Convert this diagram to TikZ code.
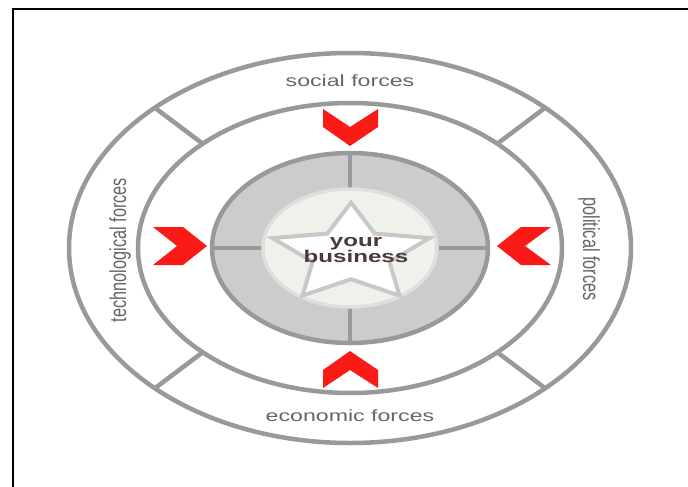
\documentclass[tikz,border=0pt]{standalone}
\usepackage{fontspec}
\setmainfont{Liberation Sans}
\definecolor{ringgray}{RGB}{153,153,153}
\definecolor{fillgray}{RGB}{204,204,204}
\definecolor{lightfill}{RGB}{238,242,234}
\definecolor{lightedge}{RGB}{222,224,222}
\definecolor{stargray}{RGB}{200,200,200}
\definecolor{labelgray}{RGB}{102,102,102}
\definecolor{centertext}{RGB}{75,58,60}
\definecolor{arrowred}{RGB}{250,26,22}
\begin{document}
\begin{tikzpicture}[x=1pt,y=1pt,
  ring/.style={draw=ringgray, line width=4.5pt},
  forcelabel/.style={text=labelgray, font=\fontsize{16.3}{19}\selectfont, inner sep=0pt},
  centerlabel/.style={text=centertext, font=\fontsize{17}{20}\selectfont\bfseries, inner sep=0pt},
  chevron/.style={fill=arrowred}]
\useasboundingbox (0,0) rectangle (688,-487);
% frame
\draw[line width=2.2pt] (13,-487) -- (13,-9) -- (688,-9);
\coordinate (c) at (350,-248);
% outer rings
\draw[ring] (c) ellipse [x radius=281, y radius=195];
\draw[ring] (c) ellipse [x radius=212, y radius=145];
\begin{scope}[shift={(350,-248)}]
  \foreach \a in {46,134,226,314}
    \draw[ring] (\a:281 and 195) -- (\a:212 and 145);
\end{scope}
% inner grey ring
\draw[ring, fill=fillgray] (c) ellipse [x radius=138, y radius=95];
\begin{scope}[shift={(350,-248)}]
  \foreach \a in {0,90,180,270}
    \draw[ring] (\a:138 and 95) -- (\a:87 and 59);
\end{scope}
\draw[draw=lightedge, line width=3.5pt, fill=lightfill] (c) ellipse [x radius=87, y radius=59];
% star
\begin{scope}[shift={(351,-254)}]
  \draw[draw=stargray, line width=4pt, fill=white, line join=miter]
    (0,51.4) -- (-23.7,20.4) -- (-78.5,15.9) -- (-38.4,-7.8) -- (-48.5,-41.6)
    -- (0,-25.2) -- (48.5,-41.6) -- (38.4,-7.8) -- (78.5,15.9) -- (23.7,20.4) -- cycle;
\end{scope}
% chevrons
\fill[chevron] (323,-109) -- (350,-127) -- (378,-109) -- (378,-127) -- (350,-146) -- (323,-127) -- cycle;
\fill[chevron] (323,-388) -- (350,-370) -- (378,-388) -- (378,-370) -- (350,-351) -- (323,-370) -- cycle;
\fill[chevron] (153,-227) -- (183,-227) -- (207,-246) -- (183,-265) -- (153,-265) -- (177,-246) -- cycle;
\fill[chevron] (551,-227) -- (521,-227) -- (497,-246) -- (521,-265) -- (551,-265) -- (525,-246) -- cycle;
% labels
\node[forcelabel, anchor=base] (social) at (350,-86.7) {\scalebox{1.42}[1]{social forces}};
\node[forcelabel, anchor=base] (economic) at (350,-421.5) {\scalebox{1.42}[1]{economic forces}};
\node[forcelabel, anchor=base, rotate=90] (techno) at (126,-250) {\scalebox{1}[1.42]{technological forces}};
\node[forcelabel, anchor=base, rotate=-90] (political) at (583,-249) {\scalebox{1}[1.42]{political forces}};
\node[centerlabel, anchor=base] (your) at (356,-246.5) {\scalebox{1.42}[1]{your}};
\node[centerlabel, anchor=base] (business) at (356,-262) {\scalebox{1.42}[1]{business}};
\end{tikzpicture}
\end{document}
